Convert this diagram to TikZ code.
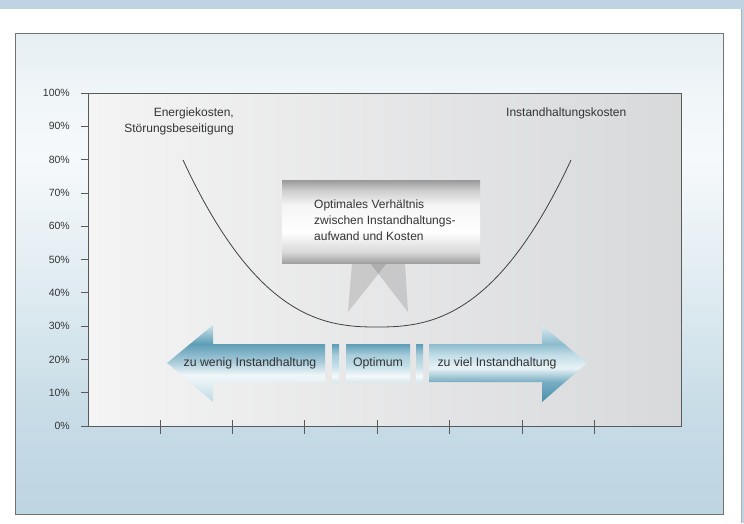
\documentclass[tikz,border=0pt]{standalone}
\usepackage{fontspec}
\setmainfont{Liberation Sans}
\usetikzlibrary{positioning}

\definecolor{bandblue}{HTML}{BED4E2}
\definecolor{txtgray}{HTML}{333333}
\definecolor{axisgray}{HTML}{5A5A5A}
\definecolor{plotleft}{HTML}{F4F4F4}
\definecolor{plotright}{HTML}{D8D9DB}
\definecolor{teal}{HTML}{5D9DB6}
\definecolor{tealdark}{HTML}{4A8EAA}

\pgfdeclareverticalshading{framebg}{100bp}{rgb(0bp)=(0.745,0.835,0.886); rgb(25bp)=(0.745,0.835,0.886);
  rgb(34.8bp)=(0.776,0.859,0.902); rgb(47.2bp)=(0.867,0.918,0.941); rgb(61.8bp)=(0.965,0.976,0.984);
  rgb(68bp)=(0.945,0.965,0.976); rgb(75bp)=(0.902,0.937,0.953); rgb(100bp)=(0.902,0.937,0.953)}
\pgfdeclareverticalshading{labelbox}{100bp}{rgb(0bp)=(0.63,0.63,0.63); rgb(25bp)=(0.63,0.63,0.63);
  rgb(31.6bp)=(0.85,0.85,0.85); rgb(43.7bp)=(1,1,1); rgb(60bp)=(0.96,0.96,0.96);
  rgb(69bp)=(0.80,0.80,0.80); rgb(75bp)=(0.60,0.60,0.60); rgb(100bp)=(0.60,0.60,0.60)}
\pgfdeclareverticalshading{leftarrow}{100bp}{rgb(0bp)=(0.75,0.855,0.898); rgb(25bp)=(0.75,0.855,0.898);
  rgb(38bp)=(0.90,0.945,0.96); rgb(42.5bp)=(0.94,0.965,0.976); rgb(51bp)=(0.663,0.80,0.855);
  rgb(62.7bp)=(0.365,0.616,0.714); rgb(75bp)=(0.81,0.89,0.92); rgb(100bp)=(0.81,0.89,0.92)}
\pgfdeclareverticalshading{rightarrow}{100bp}{rgb(0bp)=(0.29,0.557,0.667); rgb(25bp)=(0.29,0.557,0.667);
  rgb(38bp)=(0.47,0.68,0.765); rgb(47bp)=(0.91,0.95,0.965); rgb(55.5bp)=(0.76,0.867,0.906);
  rgb(62.7bp)=(0.55,0.737,0.808); rgb(75bp)=(0.863,0.922,0.945); rgb(100bp)=(0.863,0.922,0.945)}
\pgfdeclareverticalshading{midbar}{100bp}{rgb(0bp)=(0.847,0.914,0.941); rgb(25bp)=(0.847,0.914,0.941);
  rgb(33bp)=(0.957,0.976,0.984); rgb(46bp)=(0.773,0.875,0.91); rgb(60.5bp)=(0.659,0.804,0.855);
  rgb(75bp)=(0.365,0.616,0.714); rgb(100bp)=(0.365,0.616,0.714)}

\tikzset{
  axisline/.style={axisgray, line width=0.9pt},
  tickmark/.style={axisgray, line width=0.7pt},
  costcurve/.style={black!75, line width=0.8pt},
  tail/.style={fill=black, fill opacity=0.13},
  pctlabel/.style={anchor=east, text=txtgray, inner sep=0pt, font=\fontsize{10.5}{12}\selectfont},
  plotlabel/.style={text=txtgray, inner sep=0pt, font=\fontsize{12}{16}\selectfont},
  arrowlabel/.style={text=txtgray, inner sep=0pt, font=\fontsize{12.3}{14}\selectfont}
}

\begin{document}
\begin{tikzpicture}[x=1pt,y=-1pt]
  \useasboundingbox (0,0) rectangle (744,523);
  % Background and frame
  \fill[bandblue] (0,0) rectangle (744,523);
  \fill[white] (0,9) rectangle (741,523);
  \draw[black!30, line width=0.8pt] (741,9) -- (741,523);
  \shade[shading=framebg] (15,33) rectangle (723,514);
  \draw[black!55, line width=0.8pt] (15,33) rectangle (723,514);

  % Plot area
  \shade[left color=plotleft, right color=plotright] (88,93) rectangle (681,426);
  \draw[axisline] (88,426) -- (88,93) -- (681,93) -- (681,426) -- cycle;

  % Y axis
  \foreach \p in {0,...,10} {
    \pgfmathtruncatemacro\v{\p*10}
    \draw[tickmark] (81,{426-33.3*\p}) -- (88,{426-33.3*\p});
    \node[pctlabel] (ylab\p) at (70,{426-33.3*\p}) {\v\%};
  }
  % X axis
  \foreach \x in {160,232,304,377,449,522,594}
    \draw[tickmark] (\x,420) -- (\x,434);

  % Curve
  \draw[costcurve] plot[domain=-194:194, samples=60, smooth]
    ({377+\x},{327-167*(abs(\x)/194)^2.5});

  \node[plotlabel, align=right, anchor=east] (energie) at (234,121)
    {Energiekosten,\\Störungsbeseitigung};
  \node[plotlabel, anchor=west] (instand) at (506,113) {Instandhaltungskosten};

  % Label box with tails
  \fill[tail] (352,263) -- (387,263) -- (348,312) -- cycle;
  \fill[tail] (370,263) -- (405,263) -- (408,312) -- cycle;
  \shade[shading=labelbox] (282,180) rectangle (480,263);
  \node[plotlabel, align=left, anchor=west] (optbox) at (314,220)
    {Optimales Verhältnis\\zwischen Instandhaltungs-\\aufwand und Kosten};

  % Arrows
  \shade[shading=leftarrow] (167,363) -- (213,325) -- (213,344) -- (325,344)
    -- (325,382) -- (213,382) -- (213,402) -- cycle;
  \shade[shading=midbar] (332,344) rectangle (339,382);
  \shade[shading=midbar] (346,344) rectangle (410,382);
  \shade[shading=midbar] (416,344) rectangle (423,382);
  \shade[shading=rightarrow] (587,363) -- (542,325) -- (542,344) -- (429,344)
    -- (429,382) -- (542,382) -- (542,402) -- cycle;

  \node[arrowlabel] (wenig) at (250,363) {zu wenig Instandhaltung};
  \node[arrowlabel] (optimum) at (378,363) {Optimum};
  \node[arrowlabel] (viel) at (497,363) {zu viel Instandhaltung};
\end{tikzpicture}
\end{document}
